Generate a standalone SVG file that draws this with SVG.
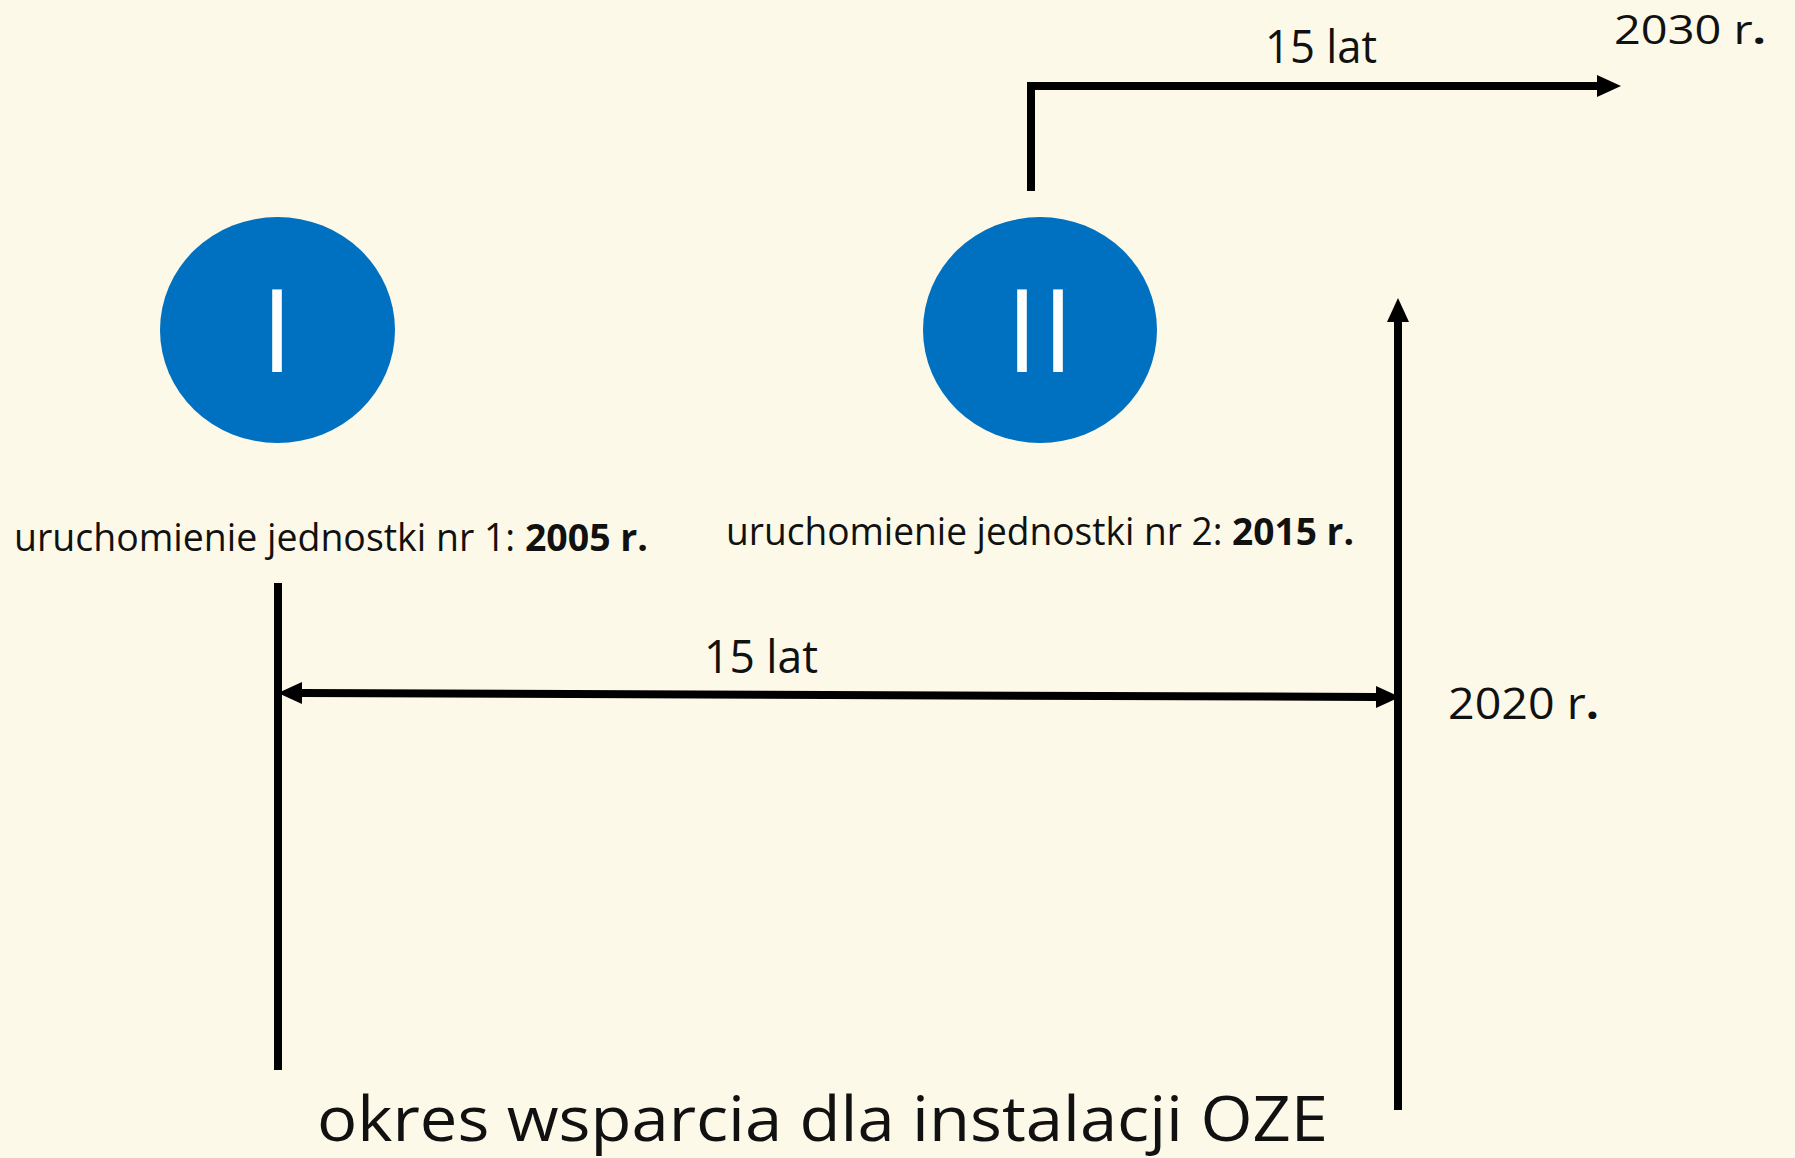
<svg xmlns="http://www.w3.org/2000/svg" width="1795" height="1158" viewBox="0 0 1795 1158">
<style>
  .t { font-family: "Open Sans", "Liberation Sans", sans-serif; fill: #111; }
  .num { font-family: "Open Sans", "Liberation Sans", sans-serif; fill: #fff; font-size: 115px; text-anchor: middle; }
  .ln { stroke: #000; stroke-width: 8; fill: none; }
  .b { font-weight: 700; }
</style>
<defs>
  <marker id="ah" viewBox="0 0 24 22" refX="0" refY="11" markerWidth="24" markerHeight="22" markerUnits="userSpaceOnUse" orient="auto-start-reverse">
    <path d="M0,0 L24,11 L0,22 z" fill="#000"/>
  </marker>
</defs>
<rect x="0" y="0" width="1795" height="1158" fill="#FDF9E8"/>

<g id="connectors">
  <line class="ln" x1="278" y1="583" x2="278" y2="1070"/>
  <line class="ln" x1="1398" y1="1110" x2="1398" y2="322" marker-end="url(#ah)"/>
  <line class="ln" x1="302" y1="693" x2="1376" y2="697" marker-start="url(#ah)" marker-end="url(#ah)"/>
  <path class="ln" d="M1031,191 L1031,86 L1597,86" marker-end="url(#ah)"/>
</g>

<g id="node-1">
  <ellipse cx="277.5" cy="330" rx="117.5" ry="113" fill="#0070C0"/>
  <text class="num" x="277" y="372">I</text>
</g>
<g id="node-2">
  <ellipse cx="1040" cy="330" rx="117" ry="113" fill="#0070C0"/>
  <text class="num" x="1042" y="372" letter-spacing="4">II</text>
</g>

<g id="labels">
  <text class="t" x="14" y="551" font-size="38" textLength="634" lengthAdjust="spacingAndGlyphs">uruchomienie jednostki nr 1: <tspan class="b">2005 r.</tspan></text>
  <text class="t" x="726" y="545" font-size="38" textLength="628" lengthAdjust="spacingAndGlyphs">uruchomienie jednostki nr 2: <tspan class="b">2015 r.</tspan></text>
  <text class="t" x="704" y="673" font-size="46" textLength="114" lengthAdjust="spacingAndGlyphs">15 lat</text>
  <text class="t" x="1265" y="63" font-size="46" textLength="112" lengthAdjust="spacingAndGlyphs">15 lat</text>
  <text class="t" x="1614" y="44" font-size="40" textLength="152" lengthAdjust="spacingAndGlyphs">2030 r<tspan class="b">.</tspan></text>
  <text class="t" x="1448" y="719" font-size="44" textLength="151" lengthAdjust="spacingAndGlyphs">2020 r<tspan class="b">.</tspan></text>
  <text class="t" x="317" y="1141" font-size="62" textLength="1011" lengthAdjust="spacingAndGlyphs">okres wsparcia dla instalacji OZE</text>
</g>
</svg>
